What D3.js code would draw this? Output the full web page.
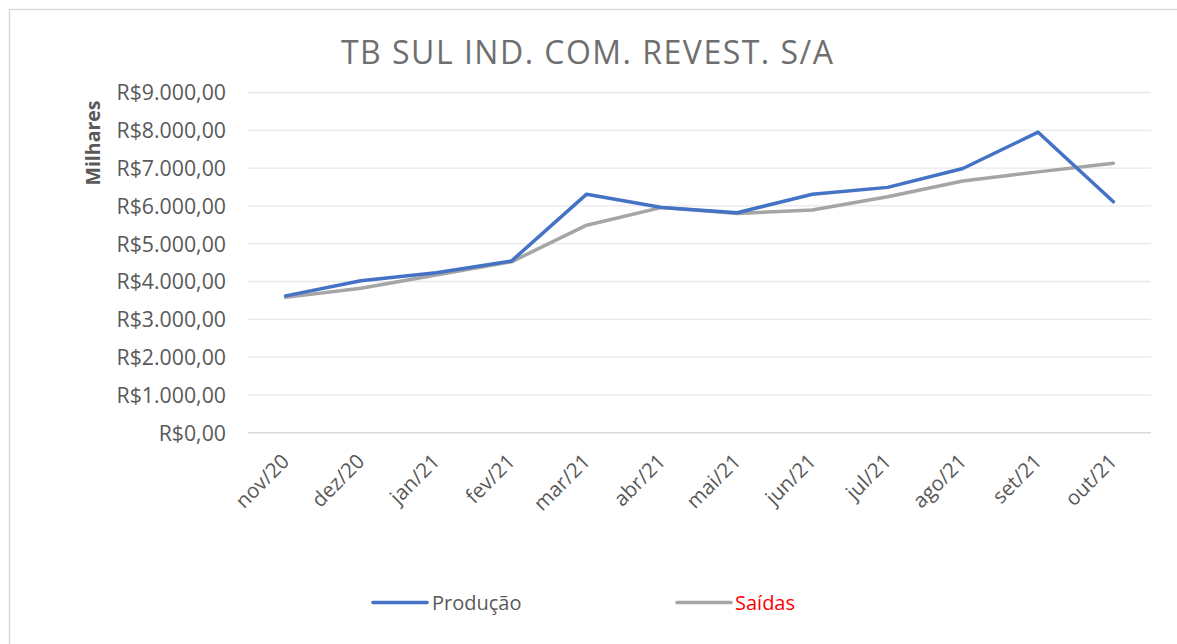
<!DOCTYPE html>
<html><head><meta charset="utf-8">
<script src="https://cdn.jsdelivr.net/npm/d3@7"></script>
<style>body{margin:0;background:#fff;}svg{display:block;}</style>
</head><body>
<svg id="c" width="1177" height="644"></svg>
<script>
const categories = ["nov/20","dez/20","jan/21","fev/21","mar/21","abr/21","mai/21","jun/21","jul/21","ago/21","set/21","out/21"];
const producao = [3620,4020,4230,4540,6310,5960,5820,6310,6490,6990,7950,6110];
const saidas   = [3580,3820,4170,4520,5490,5960,5800,5890,6240,6660,6900,7130];
const yTicks = [0,1000,2000,3000,4000,5000,6000,7000,8000,9000];
const seriesNames = ["Produção","Saídas"];

const svg = d3.select("#c");
const font = "'Open Sans', sans-serif";
const textCol = "#595959";

// chart border (left and top)
svg.append("path").attr("d","M9.5,644 V9.5 H1177").attr("fill","none").attr("stroke","#d9d9d9").attr("stroke-width",1.5);

const x = d3.scaleBand().domain(categories).range([248,1151]);
const y = d3.scaleLinear().domain([0,9000]).range([432.7,92.5]);

// gridlines
svg.append("g").selectAll("line").data(yTicks).join("line")
  .attr("x1",248).attr("x2",1151)
  .attr("y1",d=>y(d)).attr("y2",d=>y(d))
  .attr("stroke",d=>d===0?"#d9d9d9":"#e8e8e8").attr("stroke-width",d=>d===0?1.5:1.3);

// y axis labels
const fmt = v => "R$" + d3.format(",.2f")(v).replace(/,/g,"#").replace(/\./g,",").replace(/#/g,".");
const yAxis = d3.axisLeft(y).tickValues(yTicks).tickFormat(fmt).tickSize(0).tickPadding(0);
const gy = svg.append("g").attr("transform","translate(226,0)").call(yAxis);
gy.select(".domain").remove();
gy.selectAll("text").attr("font-family",font).attr("font-size","21.3px").attr("fill",textCol).attr("dy","0.35em");

// x axis labels
const xAxis = d3.axisBottom(x).tickSize(0).tickPadding(0);
const gx = svg.append("g").attr("transform","translate(0,432.7)").call(xAxis);
gx.select(".domain").remove();
gx.selectAll("text")
  .attr("font-family",font).attr("font-size","20.5px").attr("fill",textCol)
  .attr("text-anchor","end").attr("dy",null).attr("y",0)
  .attr("transform","translate(5,30) rotate(-45)");

// lines
const line = d3.line().x((d,i)=>x(categories[i])+x.bandwidth()/2).y(d=>y(d));
svg.append("path").datum(saidas).attr("d",line).attr("fill","none").attr("stroke","#a5a5a5").attr("stroke-width",3.5).attr("stroke-linejoin","round").attr("stroke-linecap","round");
svg.append("path").datum(producao).attr("d",line).attr("fill","none").attr("stroke","#4472c4").attr("stroke-width",3.5).attr("stroke-linejoin","round").attr("stroke-linecap","round");

// title
svg.append("text").attr("x",587).attr("y",64).attr("text-anchor","middle")
  .attr("font-family",font).attr("font-size","32px").attr("fill","#6f6f6f")
  .attr("textLength",492).attr("lengthAdjust","spacing")
  .text("TB SUL IND. COM. REVEST. S/A");

// y axis title
svg.append("text").attr("transform","translate(100,143) rotate(-90)").attr("text-anchor","middle")
  .attr("font-family",font).attr("font-size","19.5px").attr("font-weight","bold").attr("fill",textCol)
  .text("Milhares");

// legend
const legend = [
  {name:seriesNames[0], color:"#4472c4", text:textCol, x1:373, x2:427, tx:432},
  {name:seriesNames[1], color:"#a5a5a5", text:"#ff0000", x1:677, x2:731, tx:735}
];
const lg = svg.append("g");
legend.forEach(l=>{
  lg.append("line").attr("x1",l.x1).attr("x2",l.x2).attr("y1",602.5).attr("y2",602.5)
    .attr("stroke",l.color).attr("stroke-width",3.5).attr("stroke-linecap","round");
  lg.append("text").attr("x",l.tx).attr("y",602.5).attr("dy","0.35em")
    .attr("font-family",font).attr("font-size","20px").attr("fill",l.text).text(l.name);
});
</script>
</body></html>
